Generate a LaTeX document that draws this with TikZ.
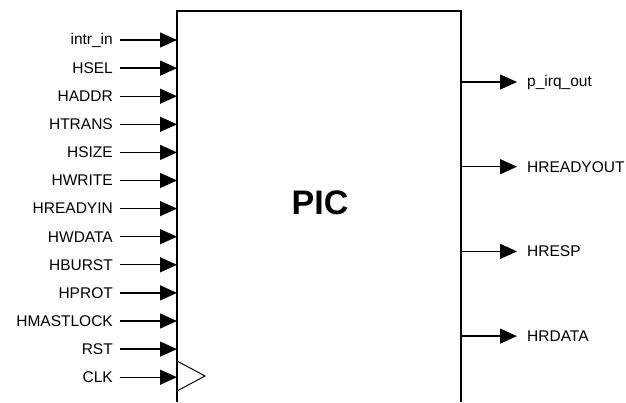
\documentclass[tikz,border=0pt]{standalone}
\usepackage{fontspec}
\setmainfont{Liberation Sans}
\usetikzlibrary{arrows.meta}
\begin{document}
\begin{tikzpicture}[x=1pt,y=-1pt,
  sig/.style={line width=1.3pt,-{Triangle[length=17pt,width=15pt]}},
  inlabel/.style={anchor=east,inner sep=0pt,font=\fontsize{15.5}{18}\selectfont},
  outlabel/.style={anchor=west,inner sep=0pt,font=\fontsize{15.5}{18}\selectfont},
  boxline/.style={line width=1.3pt}]
\useasboundingbox (0,0) rectangle (626,402);
\coordinate (bl) at (177,402);
\coordinate (tl) at (177,11);
\coordinate (tr) at (461,11);
\coordinate (br) at (461,402);
\draw[boxline] (bl) -- (tl) -- (tr) -- (br);
\node[font=\bfseries\fontsize{34}{40}\selectfont] (pic) at (320,203) {PIC};
\foreach \name [count=\i from 0] in {intr\_in,HSEL,HADDR,HTRANS,HSIZE,HWRITE,HREADYIN,HWDATA,HBURST,HPROT,HMASTLOCK,RST,CLK} {
  \pgfmathsetmacro{\yy}{40+28.1*\i}
  \node[inlabel] (in\i) at (113,\yy) {\name};
  \coordinate (pin\i) at (177,\yy);
  \draw[sig] ([xshift=7pt]in\i.east) -- (pin\i);
}
\coordinate (ck1) at (177,361);
\coordinate (ck2) at (205,376);
\coordinate (ck3) at (177,391);
\draw[line width=1pt] (ck1) -- (ck2) -- (ck3);
\foreach \name [count=\i from 0] in {p\_irq\_out,HREADYOUT,HRESP,HRDATA} {
  \pgfmathsetmacro{\yy}{82+84.7*\i}
  \coordinate (pout\i) at (461,\yy);
  \coordinate (tip\i) at (517,\yy);
  \node[outlabel] (out\i) at (527,\yy) {\name};
  \draw[sig] (pout\i) -- (tip\i);
}
\end{tikzpicture}
\end{document}
